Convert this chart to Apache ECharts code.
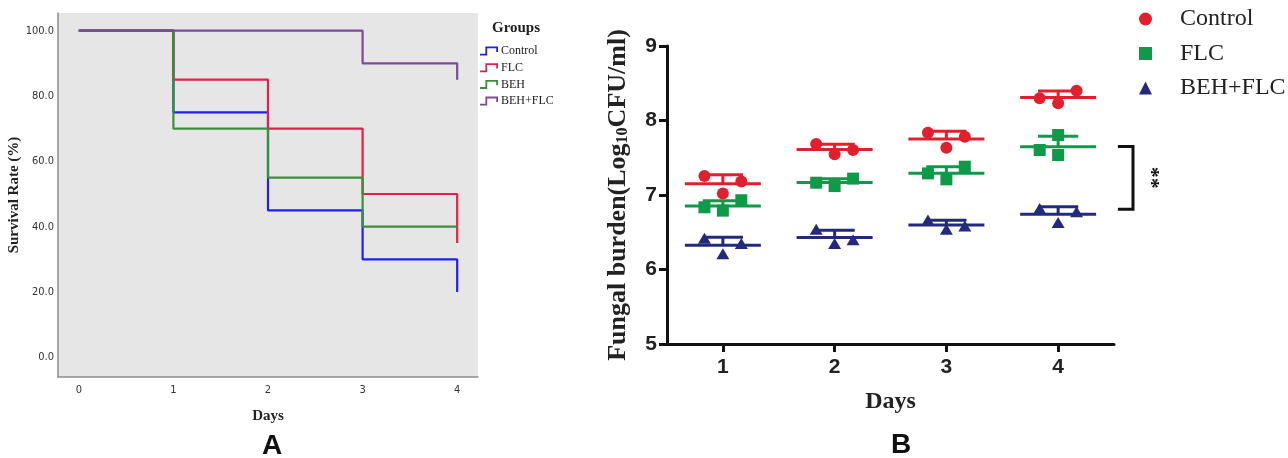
<!DOCTYPE html>
<html>
<head>
<meta charset="utf-8">
<script src="https://cdn.jsdelivr.net/npm/echarts@6/dist/echarts.min.js"></script>
<style>
html,body{margin:0;padding:0;background:#ffffff;}
#c{width:1288px;height:458px;}
</style>
</head>
<body>
<div id="c"></div>
<script>
// ---------- Panel A: survival (Kaplan-Meier) ----------
const survivalDays = [0, 1, 2, 3, 4];
const survivalControl = [100, 75, 45, 30, 20];
const survivalFLC = [100, 85, 70, 50, 35];
const survivalBEH = [100, 70, 55, 40, 40];
const survivalBEHFLC = [100, 100, 100, 90, 85];
const survivalYTicks = [0, 20, 40, 60, 80, 100];
const survivalGroups = ['Control', 'FLC', 'BEH', 'BEH+FLC'];

// ---------- Panel B: fungal burden (3 mice per group/day; left, centre, right) ----------
const burdenDays = [1, 2, 3, 4];
const burdenControl = [[7.255, 7.02, 7.18], [7.685, 7.546, 7.604], [7.836, 7.635, 7.783], [8.298, 8.23, 8.40]];
const burdenFLC = [[6.835, 6.79, 6.93], [7.165, 7.12, 7.22], [7.29, 7.21, 7.38], [7.604, 7.537, 7.805]];
const burdenBEHFLC = [[6.42, 6.21, 6.35], [6.54, 6.35, 6.40], [6.665, 6.54, 6.584], [6.82, 6.63, 6.775]];
const jitterDefault = [-1, 0, 1];
const jitterFLC = [[-1, 0, 1], [-1, 0, 1], [-1, 0, 1], [-1, 0, 0]];
const burdenYTicks = [5, 6, 7, 8, 9];
const bracketRange = [7.65, 6.81];
const bracketLabel = '**';

const SERIF = "'Liberation Serif','Times New Roman',serif";
const SANS = "'Liberation Sans',Arial,sans-serif";
const NARROW = "'Liberation Sans Narrow','Arial Narrow','DejaVu Sans Condensed',sans-serif";

const colA = {Control: '#1f1ff5', FLC: '#e3204a', BEH: '#3a8f3a', 'BEH+FLC': '#7b4a98'};
const colB = {Control: '#e0202c', FLC: '#0f9a4a', 'BEH+FLC': '#232a7e'};

function stats(v) {
  const m = v.reduce((a, b) => a + b, 0) / v.length;
  const sd = Math.sqrt(v.reduce((a, b) => a + (b - m) * (b - m), 0) / (v.length - 1));
  return [m, sd];
}

function kmSeries(name, vals) {
  return {
    name: 'A:' + name, type: 'line', xAxisIndex: 0, yAxisIndex: 0,
    step: 'end', showSymbol: false, symbol: 'none', silent: true,
    data: survivalDays.map((d, i) => [d, vals[i]]),
    lineStyle: {color: colA[name], width: 2.2},
    itemStyle: {color: colA[name]}
  };
}

const SPREAD = 0.165;
function pointSeries(name, groups, jitter, symbol, size) {
  const data = [];
  groups.forEach((vals, di) => {
    const j = Array.isArray(jitter[0]) ? jitter[di] : jitter;
    vals.forEach((v, k) => data.push([burdenDays[di] + j[k] * SPREAD, v]));
  });
  return {
    name: 'B:' + name, type: 'scatter', xAxisIndex: 1, yAxisIndex: 1,
    symbol: symbol, symbolSize: size, data: data, z: 5,
    itemStyle: {color: colB[name], opacity: 1}
  };
}

// mean line with SD error bar drawn above the mean
function summarySeries(name, groups) {
  const data = groups.map((vals, di) => {
    const s = stats(vals);
    return [burdenDays[di], s[0], s[1]];
  });
  const color = colB[name];
  return {
    name: 'B:' + name + ' mean', type: 'custom', xAxisIndex: 1, yAxisIndex: 1,
    clip: false, z: 3, silent: true,
    data: data,
    renderItem: function (params, api) {
      const x = api.value(0), m = api.value(1), sd = api.value(2);
      const st = {stroke: color, lineWidth: 3};
      const L = (a, b) => ({type: 'line', shape: {x1: a[0], y1: a[1], x2: b[0], y2: b[1]}, style: st});
      return {
        type: 'group',
        children: [
          L(api.coord([x - 0.34, m]), api.coord([x + 0.34, m])),
          L(api.coord([x, m]), api.coord([x, m + sd])),
          L(api.coord([x - 0.18, m + sd]), api.coord([x + 0.18, m + sd]))
        ]
      };
    }
  };
}

const bracketSeries = {
  name: 'B:bracket', type: 'custom', xAxisIndex: 1, yAxisIndex: 1,
  clip: false, silent: true, z: 4,
  data: [[4.6, bracketRange[0], bracketRange[1]]],
  renderItem: function (params, api) {
    const t = api.value(1), b = api.value(2);
    const p1 = api.coord([4.535, t]), p2 = api.coord([4.67, t]);
    const p3 = api.coord([4.67, b]), p4 = api.coord([4.535, b]);
    const mid = api.coord([4.83, (t + b) / 2]);
    return {
      type: 'group',
      children: [
        {type: 'polyline', shape: {points: [p1, p2, p3, p4]}, style: {stroke: '#111', lineWidth: 3, fill: null}},
        {type: 'text', x: mid[0], y: mid[1], rotation: -Math.PI / 2,
          style: {text: bracketLabel, font: 'bold 22px ' + SERIF, fill: '#111', align: 'center', verticalAlign: 'middle'}}
      ]
    };
  }
};

const stepIcon = 'path://M0,8 L6,8 L6,0 L20,0 L20,6 L18,6 L18,2 L8,2 L8,10 L0,10 Z';

const option = {
  animation: false,
  backgroundColor: '#ffffff',
  grid: [
    {left: 58, top: 13, right: 810, bottom: 81, show: true, backgroundColor: '#e6e6e6', borderWidth: 0},
    {left: 667, top: 46, right: 174, bottom: 114}
  ],
  xAxis: [
    {
      gridIndex: 0, type: 'value', min: -0.22, max: 4.22,
      axisLine: {show: true, onZero: false, lineStyle: {color: '#8c8c8c', width: 1.5}},
      axisTick: {show: false},
      splitLine: {show: false},
      axisLabel: {customValues: survivalDays, margin: 8, fontFamily: NARROW, fontSize: 11, color: '#333'},
      name: 'Days', nameLocation: 'middle', nameGap: 32,
      nameTextStyle: {fontFamily: SERIF, fontWeight: 'bold', fontSize: 15, color: '#222'}
    },
    {
      gridIndex: 1, type: 'value', min: 0.5, max: 4.5,
      axisLine: {show: true, onZero: false, lineStyle: {color: '#111', width: 3}},
      axisTick: {show: true, customValues: burdenDays, length: 8, lineStyle: {color: '#111', width: 3}},
      splitLine: {show: false},
      axisLabel: {customValues: burdenDays, margin: 13, fontFamily: SANS, fontWeight: 'bold', fontSize: 21, color: '#222'},
      name: 'Days', nameLocation: 'middle', nameGap: 46,
      nameTextStyle: {fontFamily: SERIF, fontWeight: 'bold', fontSize: 24, color: '#222'}
    }
  ],
  yAxis: [
    {
      gridIndex: 0, type: 'value', min: -6, max: 105.4,
      axisLine: {show: true, onZero: false, lineStyle: {color: '#8c8c8c', width: 1.5}},
      axisTick: {show: false},
      splitLine: {show: false},
      axisLabel: {customValues: survivalYTicks, margin: 4, fontFamily: NARROW, fontSize: 11, color: '#333',
        formatter: v => Number(v).toFixed(1)},
      name: 'Survival Rate (%)', nameLocation: 'middle', nameGap: 32,
      nameTextStyle: {fontFamily: SERIF, fontWeight: 'bold', fontSize: 15, color: '#222'}
    },
    {
      gridIndex: 1, type: 'value', min: 5, max: 9, interval: 1,
      axisLine: {show: true, onZero: false, lineStyle: {color: '#111', width: 3}},
      axisTick: {show: true, length: 8, lineStyle: {color: '#111', width: 3}},
      splitLine: {show: false},
      axisLabel: {customValues: burdenYTicks, margin: 10, fontFamily: SANS, fontWeight: 'bold', fontSize: 21, color: '#222'},
      name: 'Fungal burden(Log{sub|10}CFU/ml)', nameLocation: 'middle', nameGap: 36,
      nameTextStyle: {fontFamily: SERIF, fontWeight: 'bold', fontSize: 26, color: '#222',
        rich: {sub: {fontFamily: SERIF, fontWeight: 'bold', fontSize: 16, color: '#222', verticalAlign: 'bottom'}}}
    }
  ],
  legend: [
    {
      orient: 'vertical', left: 480, top: 45, padding: 0, itemGap: 4.7,
      itemWidth: 18, itemHeight: 9, icon: stepIcon, selectedMode: false,
      data: survivalGroups.map(g => 'A:' + g),
      formatter: n => n.replace(/^[AB]:/, ''),
      textStyle: {fontFamily: SERIF, fontSize: 12, color: '#222', padding: [0, 0, 0, -2]}
    },
    {
      orient: 'vertical', left: 1139, top: 7, padding: 0, itemGap: 10.5,
      itemWidth: 13, itemHeight: 13, selectedMode: false,
      data: ['B:Control', 'B:FLC', 'B:BEH+FLC'],
      formatter: n => n.replace(/^[AB]:/, ''),
      textStyle: {fontFamily: SERIF, fontSize: 24, color: '#222', padding: [0, 0, 0, 23]}
    }
  ],
  graphic: [
    {type: 'text', x: 516, y: 28, style: {text: 'Groups', font: 'bold 15px ' + SERIF, fill: '#222', align: 'center', verticalAlign: 'middle'}},
    {type: 'text', x: 272, y: 446, style: {text: 'A', font: 'bold 28px ' + SANS, fill: '#111', align: 'center', verticalAlign: 'middle'}},
    {type: 'text', x: 901, y: 445, style: {text: 'B', font: 'bold 28px ' + SANS, fill: '#111', align: 'center', verticalAlign: 'middle'}}
  ],
  series: [
    kmSeries('Control', survivalControl),
    kmSeries('FLC', survivalFLC),
    kmSeries('BEH', survivalBEH),
    kmSeries('BEH+FLC', survivalBEHFLC),
    summarySeries('Control', burdenControl),
    summarySeries('FLC', burdenFLC),
    summarySeries('BEH+FLC', burdenBEHFLC),
    pointSeries('Control', burdenControl, jitterDefault, 'circle', 12),
    pointSeries('FLC', burdenFLC, jitterFLC, 'rect', 12),
    pointSeries('BEH+FLC', burdenBEHFLC, jitterDefault, 'triangle', [13, 11]),
    bracketSeries
  ]
};

const chart = echarts.init(document.getElementById('c'), null, {renderer: 'canvas'});
chart.setOption(option);
</script>
</body>
</html>
